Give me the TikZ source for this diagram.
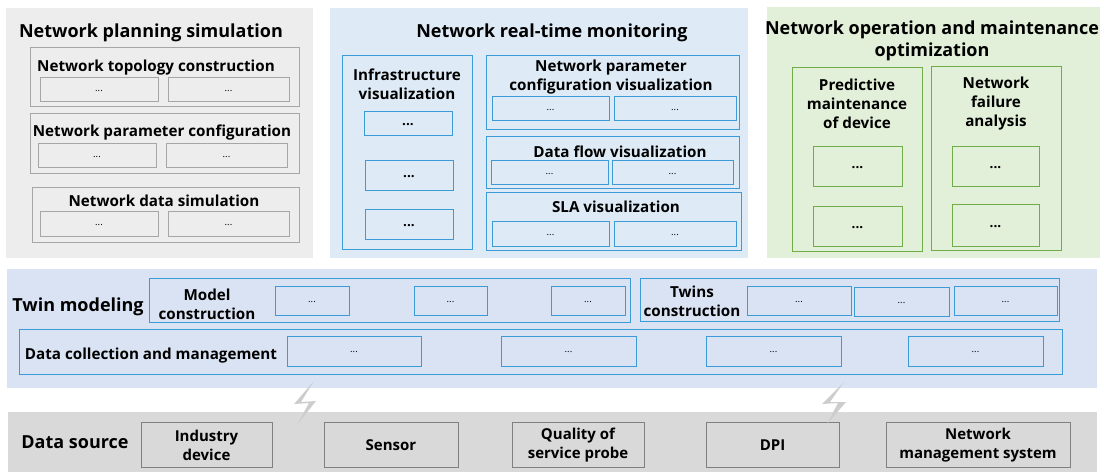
\documentclass[tikz,border=0pt]{standalone}
\usepackage{fontspec}
\setmainfont{Open Sans}
\usetikzlibrary{fit}
\definecolor{planfill}{HTML}{EDEDED}
\definecolor{planline}{HTML}{A6A6A6}
\definecolor{monfill}{HTML}{DEEBF7}
\definecolor{twinfill}{HTML}{DAE3F3}
\definecolor{blueline}{HTML}{3C9BD6}
\definecolor{opfill}{HTML}{E2F0D9}
\definecolor{greenline}{HTML}{70AD47}
\definecolor{srcfill}{HTML}{D9D9D9}
\definecolor{srcline}{HTML}{808080}
\definecolor{boltgrey}{HTML}{CDCDCD}
% a framed box spanning two corners, with its text set in the middle
% #1 box style, #2 corners, #3 name, #4 text style, #5 text
\newcommand\boxwith[5]{%
  \node[#1, fit={#2}] (#3) {};
  \node[#4] (#3-txt) at (#3.center) {#5};}
\begin{document}
\begin{tikzpicture}[x=1pt,y=-1pt,
  panel/.style={draw=none, inner sep=0pt},
  frame/.style={draw, line width=1pt, inner sep=0pt},
  cell/.style={draw, line width=1pt, inner sep=0pt},
  dots/.style={font=\fontsize{9.5}{10}\selectfont, inner sep=0pt, yshift=-1pt},
  bigdots/.style={font=\fontsize{13.5}{14}\selectfont\bfseries, inner sep=0pt, yshift=-1pt},
  ttl/.style={font=\fontsize{18}{22}\selectfont\bfseries, align=center},
  lbl/.style={font=\fontsize{15.2}{19}\selectfont\bfseries, align=center},
  lower/.style={yshift=-2.5pt},
  srcbox/.style={draw=srcline, fill=srcfill, line width=1pt, inner sep=0pt},
  srctext/.style={font=\fontsize{15}{19}\selectfont\bfseries, align=center, yshift=-1pt},
  gframe/.style={frame, draw=planline},
  gcell/.style={cell, draw=planline},
  bframe/.style={frame, draw=blueline},
  bcell/.style={cell, draw=blueline},
  nframe/.style={frame, draw=greenline},
  ncell/.style={cell, draw=greenline},
  bolt/.style={fill=boltgrey, draw=none}
]
\useasboundingbox (0,0) rectangle (1104,473);

% ---------- Network planning simulation ----------
\node[panel, fill=planfill, fit={(6,8)(313,258)}] (plan) {};
\node[ttl, lower] (planT) at (151,30) {Network planning simulation};
\node[gframe, fit={(30,48)(299,107)}] (topo) {};
\node[lbl, lower] (topoT) at (156,65) {Network topology construction};
\boxwith{gcell}{(40,78)(158,102)}{topo1}{dots}{...}
\boxwith{gcell}{(168,78)(289,102)}{topo2}{dots}{...}
\node[gframe, fit={(30,114)(299,174)}] (param) {};
\node[lbl, lower] (paramT) at (162,130) {Network parameter configuration};
\boxwith{gcell}{(38,144)(156,168)}{param1}{dots}{...}
\boxwith{gcell}{(166,144)(287,168)}{param2}{dots}{...}
\node[gframe, fit={(32,188)(299,243)}] (dsim) {};
\node[lbl] (dsimT) at (164,201) {Network data simulation};
\boxwith{gcell}{(40,212)(158,237)}{dsim1}{dots}{...}
\boxwith{gcell}{(168,212)(289,237)}{dsim2}{dots}{...}

% ---------- Network real-time monitoring ----------
\node[panel, fill=monfill, fit={(330,8)(748,258)}] (mon) {};
\node[ttl, lower] (monT) at (552,30) {Network real-time monitoring};
\node[bframe, fit={(342,56)(472,250)}] (infra) {};
\node[lbl] (infraT) at (407,84) {Infrastructure\\visualization};
\boxwith{bcell}{(364,112)(452,136)}{infra1}{bigdots}{...}
\boxwith{bcell}{(365,161)(453,191)}{infra2}{bigdots}{...}
\boxwith{bcell}{(365,210)(453,240)}{infra3}{bigdots}{...}
\node[bframe, fit={(486,56)(739,130)}] (npcv) {};
\node[lbl] (npcvT) at (611,77) {Network parameter\\configuration visualization};
\boxwith{bcell}{(492,97)(609,121)}{npcv1}{dots}{...}
\boxwith{bcell}{(614,97)(736,121)}{npcv2}{dots}{...}
\node[bframe, fit={(486,137)(739,189)}] (flow) {};
\node[lbl] (flowT) at (620,152) {Data flow visualization};
\boxwith{bcell}{(491,161)(608,185)}{flow1}{dots}{...}
\boxwith{bcell}{(612,161)(733,185)}{flow2}{dots}{...}
\node[bframe, fit={(486,193)(741,251)}] (sla) {};
\node[lbl] (slaT) at (616,207) {SLA visualization};
\boxwith{bcell}{(492,222)(609,247)}{sla1}{dots}{...}
\boxwith{bcell}{(614,222)(736,247)}{sla2}{dots}{...}

% ---------- Network operation and maintenance optimization ----------
\node[panel, fill=opfill, fit={(767,7)(1100,258)}] (ops) {};
\node[ttl] (opsT) at (932,41) {Network operation and maintenance\\optimization};
\node[nframe, fit={(792,68)(922,252)}] (pred) {};
\node[lbl] (predT) at (857,104) {Predictive\\maintenance\\of device};
\boxwith{ncell}{(813,147)(902,187)}{pred1}{bigdots}{...}
\boxwith{ncell}{(813,207)(902,247)}{pred2}{bigdots}{...}
\node[nframe, fit={(931,67)(1061,251)}] (fail) {};
\node[lbl] (failT) at (996,104) {Network\\failure\\analysis};
\boxwith{ncell}{(952,147)(1039,187)}{fail1}{bigdots}{...}
\boxwith{ncell}{(952,205)(1039,247)}{fail2}{bigdots}{...}

% ---------- Twin modeling ----------
\node[panel, fill=twinfill, fit={(7,269)(1097,388)}] (twin) {};
\node[ttl, lower] (twinT) at (78,304) {Twin modeling};
\node[bframe, fit={(149,279)(630,323)}] (model) {};
\node[lbl] (modelT) at (207,304) {Model\\construction};
\boxwith{bcell}{(275,287)(349,316)}{model1}{dots}{...}
\boxwith{bcell}{(414,287)(487,316)}{model2}{dots}{...}
\boxwith{bcell}{(551,287)(625,316)}{model3}{dots}{...}
\node[bframe, fit={(640,279)(1059,322)}] (twins) {};
\node[lbl] (twinsT) at (692,301) {Twins\\construction};
\boxwith{bcell}{(747,287)(851,316)}{twins1}{dots}{...}
\boxwith{bcell}{(854,288)(949,317)}{twins2}{dots}{...}
\boxwith{bcell}{(954,287)(1057,316)}{twins3}{dots}{...}
\node[bframe, fit={(19,330)(1062,374)}] (dcm) {};
\node[lbl, lower] (dcmT) at (151,353) {Data collection and management};
\boxwith{bcell}{(287,337)(421,366)}{dcm1}{dots}{...}
\boxwith{bcell}{(501,337)(636,366)}{dcm2}{dots}{...}
\boxwith{bcell}{(706,337)(841,366)}{dcm3}{dots}{...}
\boxwith{bcell}{(908,337)(1043,366)}{dcm4}{dots}{...}

% ---------- Data source ----------
\node[panel, fill=srcfill, fit={(8,412)(1097,472)}] (src) {};
\node[ttl] (srcT) at (75,442) {Data source};
\boxwith{srcbox}{(141,422)(272,467)}{src1}{srctext}{Industry\\device}
\boxwith{srcbox}{(324,422)(458,467)}{src2}{srctext}{Sensor}
\boxwith{srcbox}{(512,422)(644,467)}{src3}{srctext}{Quality of\\service probe}
\boxwith{srcbox}{(706,422)(839,467)}{src4}{srctext}{DPI}
\boxwith{srcbox}{(886,422)(1070,467)}{src5}{srctext}{Network\\management system}

% ---------- wireless links between the two lower layers ----------
\fill[bolt] (314,381) -- (294,404) -- (309,403) -- (297,425) -- (316,401) -- (301,402) -- cycle;
\fill[bolt] (844,382) -- (822,404) -- (838,403) -- (827,424) -- (846,402) -- (830,402) -- cycle;
\end{tikzpicture}
\end{document}
